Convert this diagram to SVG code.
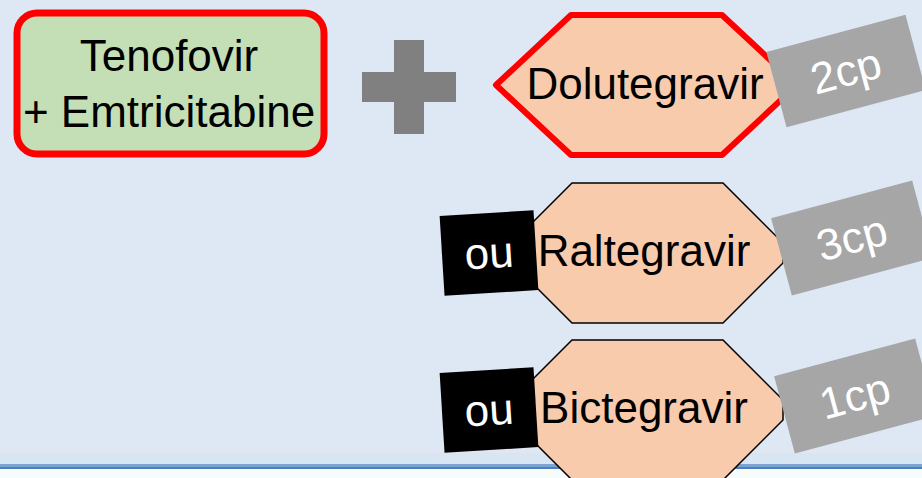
<svg xmlns="http://www.w3.org/2000/svg" width="922" height="478" viewBox="0 0 922 478">
  <style>
    text { font-family: "Liberation Sans", Arial, sans-serif; font-size: 44px; text-anchor: middle; }
    .dark { fill: #000000; }
    .light { fill: #FFFFFF; }
    .drug { fill: #F8CBAD; stroke: #000000; stroke-width: 1.5; stroke-linejoin: miter; }
    .key { stroke: #FF0000; stroke-width: 6; stroke-linejoin: round; }
    .dose { fill: #A6A6A6; }
    .alt { fill: #000000; }
  </style>

  <!-- slide background -->
  <rect x="0" y="0" width="922" height="478" fill="#DDE8F4"/>
  <rect x="0" y="449" width="922" height="4" fill="#E2E6F0"/>
  <rect x="0" y="453" width="922" height="11" fill="#D8E6F4"/>
  <rect x="0" y="464" width="922" height="3" fill="#7AA3D4"/>
  <rect x="0" y="467" width="922" height="2" fill="#4F7FB8"/>
  <rect x="0" y="469" width="922" height="9" fill="#F7FBFC"/>

  <!-- backbone: two-drug combination -->
  <g id="tenofovir-emtricitabine">
    <rect x="17" y="13" width="307" height="141" rx="20" ry="20" fill="#C4DFB6" stroke="#FF0000" stroke-width="7"/>
    <text x="169" y="71" class="dark">Tenofovir</text>
    <text x="169" y="127" class="dark">+ Emtricitabine</text>
  </g>

  <!-- plus sign -->
  <g id="plus">
    <path d="M394 40 H424 V72 H456 V102 H424 V134 H394 V102 H362 V72 H394 Z" fill="#808080"/>
  </g>

  <!-- third agent: dolutegravir -->
  <g id="dolutegravir">
    <polygon class="drug key" points="496,85 571,15 722,15 797,85 722,155 571,155"/>
    <text x="645" y="99" class="dark">Dolutegravir</text>
  </g>
  <g id="dose-2cp">
    <g transform="translate(846,71) rotate(-15)">
      <rect class="dose" x="-72" y="-39" width="144" height="78"/>
      <text x="0" y="15" class="light">2cp</text>
    </g>
  </g>

  <!-- alternative: raltegravir -->
  <g id="raltegravir">
    <polygon class="drug" points="512,243 572,183 723,183 783,243 783,263 723,323 572,323 512,263"/>
    <text x="644" y="266" class="dark">Raltegravir</text>
  </g>
  <g id="or-raltegravir">
    <g transform="translate(489,253) rotate(-3.5)">
      <rect class="alt" x="-47" y="-40" width="94" height="80"/>
      <text x="0" y="15" class="light">ou</text>
    </g>
  </g>
  <g id="dose-3cp">
    <g transform="translate(852,238) rotate(-15)">
      <rect class="dose" x="-73" y="-40" width="146" height="80"/>
      <text x="0" y="15" class="light">3cp</text>
    </g>
  </g>

  <!-- alternative: bictegravir -->
  <g id="bictegravir">
    <polygon class="drug" points="512,400 572,340 723,340 783,400 783,420 723,480 572,480 512,420"/>
    <text x="644" y="423" class="dark">Bictegravir</text>
  </g>
  <g id="or-bictegravir">
    <g transform="translate(489,410) rotate(-3.5)">
      <rect class="alt" x="-47" y="-40" width="94" height="80"/>
      <text x="0" y="15" class="light">ou</text>
    </g>
  </g>
  <g id="dose-1cp">
    <g transform="translate(855,396) rotate(-15)">
      <rect class="dose" x="-73" y="-40" width="146" height="80"/>
      <text x="0" y="15" class="light">1cp</text>
    </g>
  </g>
</svg>
